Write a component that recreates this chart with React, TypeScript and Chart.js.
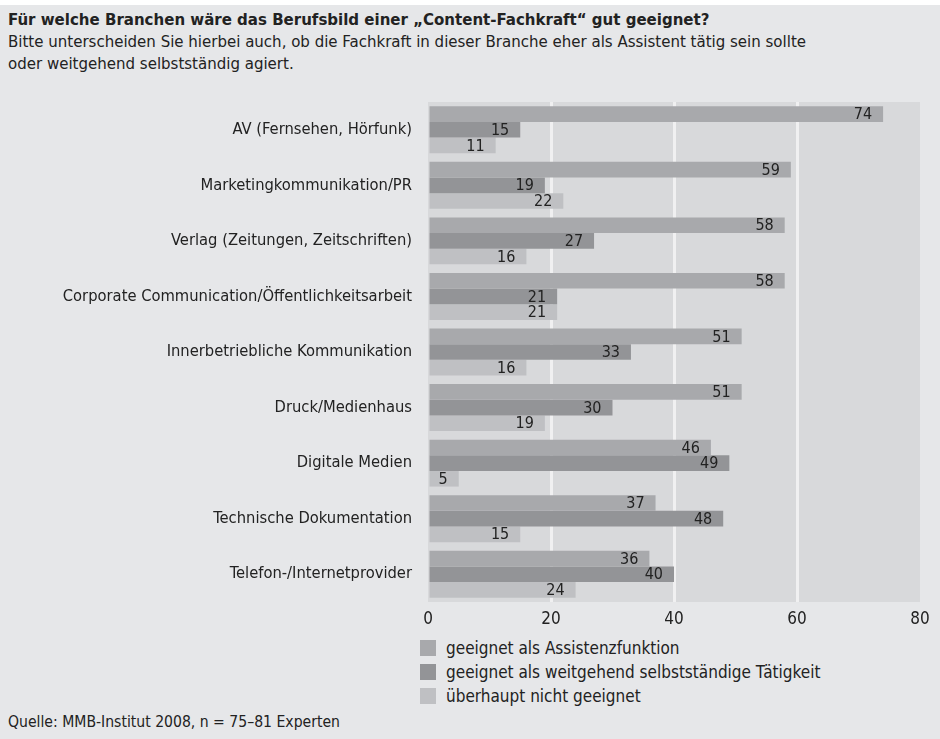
import React, { useEffect, useRef } from "react";
import { Chart, registerables } from "chart.js";

Chart.register(...registerables);

const categories = [
  "AV (Fernsehen, Hörfunk)",
  "Marketingkommunikation/PR",
  "Verlag (Zeitungen, Zeitschriften)",
  "Corporate Communication/Öffentlichkeitsarbeit",
  "Innerbetriebliche Kommunikation",
  "Druck/Medienhaus",
  "Digitale Medien",
  "Technische Dokumentation",
  "Telefon-/Internetprovider",
];
const seriesNames = [
  "geeignet als Assistenzfunktion",
  "geeignet als weitgehend selbstständige Tätigkeit",
  "überhaupt nicht geeignet",
];
const assistenz = [74, 59, 58, 58, 51, 51, 46, 37, 36];
const selbststaendig = [15, 19, 27, 21, 33, 30, 49, 48, 40];
const nichtGeeignet = [11, 22, 16, 21, 16, 19, 5, 15, 24];
const xTicks = [0, 20, 40, 60, 80];

const colors = ["#a8a9ac", "#939497", "#bfc0c3"];
const FONT = "'DejaVu Sans Condensed', 'DejaVu Sans', sans-serif";
const TEXT = "#222222";

const plotBg = {
  id: "plotBg",
  beforeDraw(chart: any) {
    const { ctx, chartArea } = chart;
    ctx.save();
    ctx.fillStyle = "#d8d9db";
    ctx.fillRect(chartArea.left, chartArea.top, chartArea.right - chartArea.left, chartArea.bottom - chartArea.top);
    ctx.restore();
  },
};

const valueLabels = {
  id: "valueLabels",
  afterDatasetsDraw(chart: any) {
    const { ctx } = chart;
    ctx.save();
    ctx.font = `16px ${FONT}`;
    ctx.fillStyle = TEXT;
    ctx.textAlign = "right";
    ctx.textBaseline = "middle";
    chart.data.datasets.forEach((ds: any, i: number) => {
      const meta = chart.getDatasetMeta(i);
      meta.data.forEach((bar: any, j: number) => {
        ctx.fillText(String(ds.data[j]), bar.x - 11, bar.y + 1);
      });
    });
    ctx.restore();
  },
};

function BarChart() {
  const ref = useRef<HTMLCanvasElement>(null);
  useEffect(() => {
    if (!ref.current) return;
    const chart = new Chart(ref.current, {
      type: "bar",
      data: {
        labels: categories,
        datasets: [assistenz, selbststaendig, nichtGeeignet].map((d, i) => ({
          label: seriesNames[i],
          data: d,
          backgroundColor: colors[i],
          borderWidth: 0,
          barPercentage: 1,
          categoryPercentage: 0.845,
        })),
      },
      options: {
        indexAxis: "y",
        animation: false,
        responsive: true,
        maintainAspectRatio: false,
        layout: { padding: { top: 12, right: 20, left: 0, bottom: 0 } },
        plugins: { legend: { display: false }, tooltip: { enabled: false } },
        scales: {
          x: {
            min: 0,
            max: 80,
            afterBuildTicks: (s: any) => {
              s.ticks = xTicks.map((v) => ({ value: v }));
            },
            afterFit: (s: any) => {
              s.height = 28;
            },
            grid: {
              drawTicks: false,
              color: (c: any) => (c.tick && [20, 40, 60].includes(c.tick.value) ? "#f0f0f1" : "rgba(0,0,0,0)"),
              lineWidth: 3,
            },
            border: { display: false },
            ticks: { color: TEXT, font: { family: FONT, size: 17 }, padding: 7 },
          },
          y: {
            afterFit: (s: any) => {
              s.width = 428;
              s.paddingTop = 0;
              s.paddingBottom = 0;
            },
            grid: { display: false, drawTicks: false },
            border: { display: false },
            ticks: { color: TEXT, font: { family: FONT, size: 16.4 }, padding: 16 },
          },
        },
      },
      plugins: [plotBg, valueLabels],
    } as any);
    return () => chart.destroy();
  }, []);
  return <canvas ref={ref} />;
}

export default function App() {
  const textStyle: React.CSSProperties = { fontFamily: FONT, color: TEXT, position: "absolute", whiteSpace: "nowrap" };
  return (
    <div style={{ position: "fixed", left: 0, top: 0, width: 940, height: 739, background: "#e6e7e9", overflow: "hidden" }}>
      <div style={{ position: "absolute", left: 0, top: 0, width: 940, height: 5, background: "#ffffff" }} />
      <div style={{ ...textStyle, left: 8, top: 8, fontSize: 16.7, fontWeight: "bold", lineHeight: "22px" }}>
        Für welche Branchen wäre das Berufsbild einer „Content-Fachkraft“ gut geeignet?
      </div>
      <div style={{ ...textStyle, left: 8, top: 30, fontSize: 16.7, lineHeight: "22px" }}>
        Bitte unterscheiden Sie hierbei auch, ob die Fachkraft in dieser Branche eher als Assistent tätig sein sollte
        <br />
        oder weitgehend selbstständig agiert.
      </div>
      <div style={{ position: "absolute", left: 0, top: 90, width: 940, height: 540 }}>
        <BarChart />
      </div>
      {seriesNames.map((n, i) => (
        <div key={n} style={{ ...textStyle, left: 420, top: 640 + i * 24, height: 16, display: "flex", alignItems: "center", fontSize: 17 }}>
          <span style={{ display: "inline-block", width: 16, height: 16, background: colors[i], marginRight: 10 }} />
          <span>{n}</span>
        </div>
      ))}
      <div style={{ ...textStyle, left: 8, top: 712, fontSize: 15.6, lineHeight: "20px" }}>Quelle: MMB-Institut 2008, n = 75–81 Experten</div>
    </div>
  );
}
